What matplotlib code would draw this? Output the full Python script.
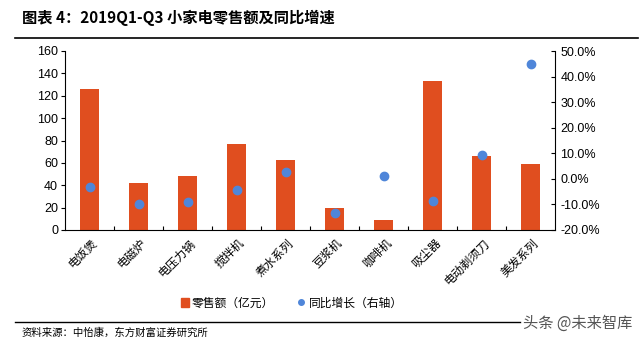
import numpy as np
import matplotlib.pyplot as plt
from matplotlib.lines import Line2D
from matplotlib.patches import Patch
from matplotlib.ticker import FuncFormatter

plt.rcParams['font.family'] = ['Noto Sans CJK SC', 'DejaVu Sans']
plt.rcParams['axes.unicode_minus'] = False

categories = ['电饭煲', '电磁炉', '电压力锅', '搅拌机', '煮水系列',
              '豆浆机', '咖啡机', '吸尘器', '电动剃须刀', '美发系列']
sales = [126, 42, 48.5, 77, 62.5, 20, 9, 133, 66, 59]           # 亿元
growth = [-3.3, -9.8, -9.0, -4.4, 2.5, -13.5, 1.0, -8.8, 9.2, 44.8]  # %

bar_color = '#E04E1F'
dot_color = '#4F86D9'

fig = plt.figure(figsize=(6.4, 3.44), dpi=100)
ax = fig.add_axes([65/640, 1 - 230/344, 490/640, 179/344])
x = np.arange(len(categories))
ax.bar(x, sales, width=0.4, color=bar_color, zorder=2)
ax.set_xlim(-0.5, len(categories) - 0.5)
ax.set_ylim(0, 160)
ax.set_yticks(np.arange(0, 161, 20))

ax2 = ax.twinx()
ax2.scatter(x, growth, s=36, color=dot_color, zorder=3)
ax2.set_ylim(-20, 50)
ax2.set_yticks(np.arange(-20, 51, 10))
ax2.yaxis.set_major_formatter(FuncFormatter(lambda v, p: f'{v:.1f}%'))

ax.spines['top'].set_visible(False)
ax.spines['right'].set_visible(False)
ax2.spines['top'].set_visible(False)
ax2.spines['left'].set_visible(False)
ax2.spines['bottom'].set_visible(False)

ax.tick_params(axis='y', direction='out', length=3, labelsize=9, pad=2)
ax2.tick_params(axis='y', direction='in', length=3, labelsize=9, pad=4)
for lbl in ax.get_yticklabels() + ax2.get_yticklabels():
    lbl.set_family('Liberation Sans')

# category ticks sit between the bars, labels under each bar
ax.set_xticks(np.arange(0.5, len(categories) - 0.5))
ax.set_xticklabels([])
ax.tick_params(axis='x', direction='in', length=3)
for i, name in enumerate(categories):
    ax.text(i + 0.12, -10, name, rotation=45, ha='right', va='center',
            rotation_mode='anchor', fontsize=8.5, transform=ax.transData)

handles = [Patch(color=bar_color), Line2D([], [], marker='o', ls='', color=dot_color, markersize=4)]
fig.legend(handles, ['零售额（亿元）', '同比增长（右轴）'], loc='center',
           bbox_to_anchor=(292/640, 1 - 303/344), ncol=2, frameon=False,
           fontsize=8.5, handlelength=0.6, handletextpad=0.3, columnspacing=2.0)

fig.text(22/640, 1 - 18/344, '图表 4：2019Q1-Q3 小家电零售额及同比增速',
         fontsize=11, fontweight='bold', va='center', ha='left')
fig.add_artist(Line2D([15/640, 638/640], [1 - 38/344] * 2, color='black', lw=1.2))
fig.add_artist(Line2D([15/640, 520/640], [1 - 322/344] * 2, color='black', lw=1.0))
fig.text(22/640, 1 - 333/344, '资料来源：中怡康，东方财富证券研究所',
         fontsize=7.5, va='center', ha='left')
fig.text(632/640, 1 - 323/344, '头条 @未来智库', fontsize=11, color='#555555',
         va='center', ha='right')

fig.savefig('out.png', dpi=100)
